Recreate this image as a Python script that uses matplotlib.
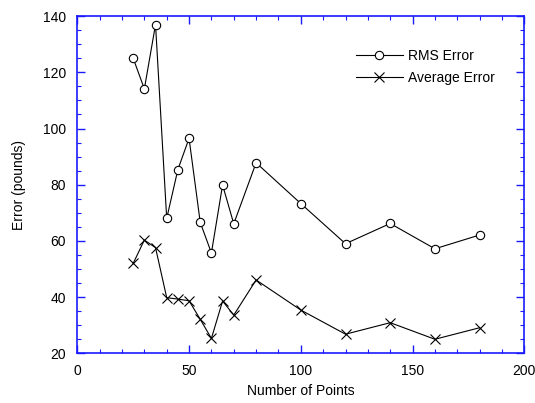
import matplotlib
matplotlib.use("Agg")
import matplotlib.pyplot as plt
from matplotlib.ticker import MultipleLocator

plt.rcParams["font.family"] = ["Liberation Sans", "DejaVu Sans"]

# Number of points used vs. error
n_points = [25, 30, 35, 40, 45, 50, 55, 60, 65, 70, 80, 100, 120, 140, 160, 180]
rms_error = [125.0, 114.1, 137.0, 68.0, 85.4, 96.5, 66.6, 55.7, 79.9, 66.1,
             87.8, 73.3, 59.0, 66.2, 57.2, 62.1]
avg_error = [52.0, 60.3, 57.6, 39.8, 39.3, 38.7, 32.1, 25.3, 38.6, 33.6,
             46.1, 35.4, 26.8, 30.9, 25.0, 29.1]

AXIS_BLUE = "#1a1aff"

fig = plt.figure(figsize=(5.35, 4.03), dpi=100)
ax = fig.add_axes([0.1445, 0.1233, 0.8355, 0.8367])

ax.plot(n_points, rms_error, color="black", lw=0.8, marker="o", ms=6,
        mfc="white", mec="black", mew=0.8, label="RMS Error")
ax.plot(n_points, avg_error, color="black", lw=0.8, marker="x", ms=7,
        mec="black", mew=0.8, label="Average Error")

ax.set_xlim(0, 200)
ax.set_ylim(20, 140)
ax.xaxis.set_major_locator(MultipleLocator(50))
ax.xaxis.set_minor_locator(MultipleLocator(10))
ax.yaxis.set_major_locator(MultipleLocator(20))
ax.yaxis.set_minor_locator(MultipleLocator(5))

for s in ax.spines.values():
    s.set_color(AXIS_BLUE)
    s.set_linewidth(1.2)
ax.tick_params(which="both", direction="in", top=True, right=True,
               color=AXIS_BLUE, labelsize=10, labelcolor="black")
ax.tick_params(which="major", length=6, width=1.0, pad=8)
ax.tick_params(which="minor", length=3, width=0.8)

ax.set_xlabel("Number of Points", fontsize=10, labelpad=4)
ax.set_ylabel("Error (pounds)", fontsize=10, labelpad=12)

ax.legend(loc="upper left", bbox_to_anchor=(0.623, 0.902), frameon=False,
          borderaxespad=0, borderpad=0, fontsize=10, handlelength=3.4,
          handletextpad=0.36, labelspacing=0.58)

fig.savefig("out.png", dpi=100)
